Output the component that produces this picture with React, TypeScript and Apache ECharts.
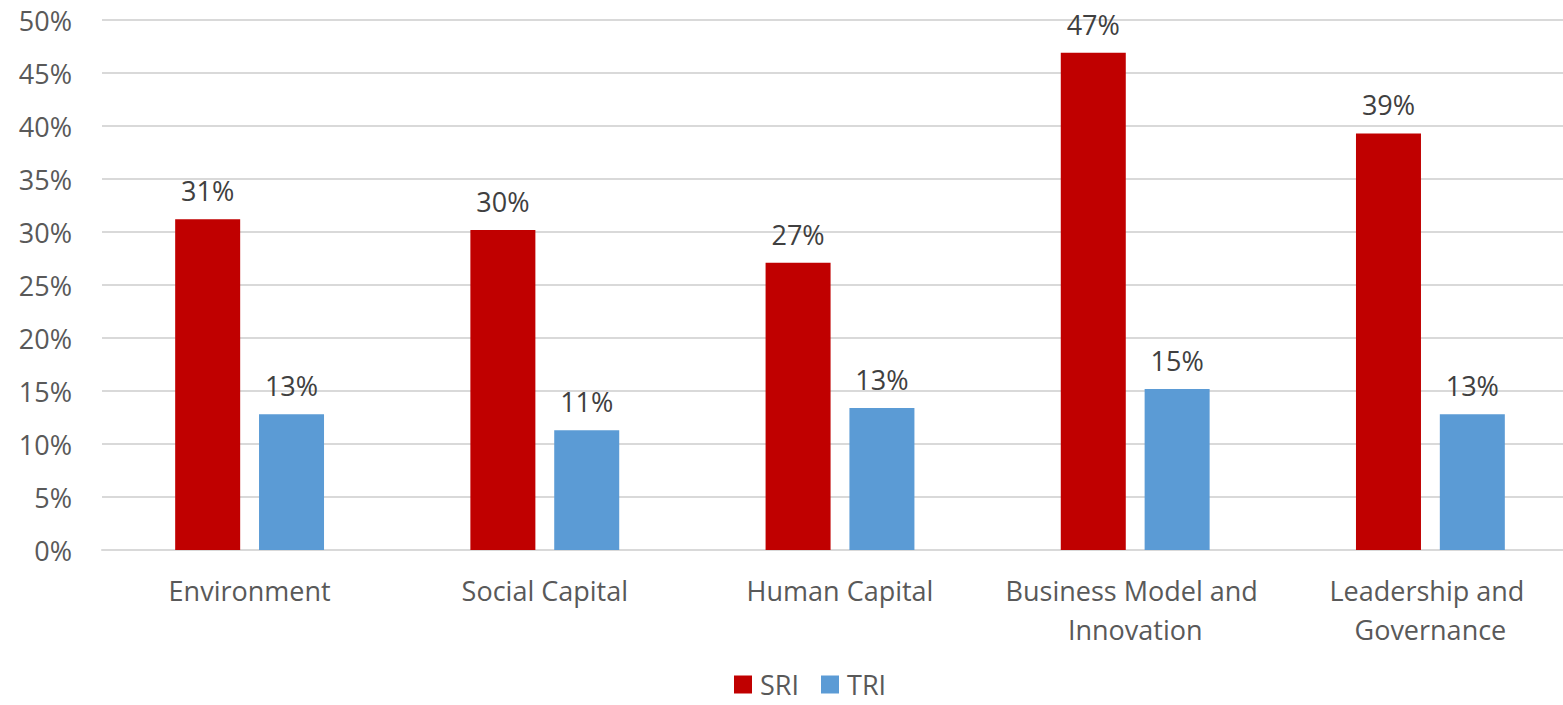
import React, { useEffect, useRef } from "react";
import * as echarts from "echarts";

const categories = [
  "Environment",
  "Social Capital",
  "Human Capital",
  "Business Model and Innovation",
  "Leadership and Governance",
];
const sriValues = [31.2, 30.2, 27.1, 46.9, 39.3];
const triValues = [12.8, 11.3, 13.4, 15.2, 12.8];
const yTicks = { min: 0, max: 50, interval: 5 };

const FONT = "'Open Sans', 'Noto Sans', sans-serif";

export default function App() {
  const ref = useRef<HTMLDivElement>(null);
  useEffect(() => {
    if (!ref.current) return;
    const chart = echarts.init(ref.current, null, { renderer: "svg" });
    const label = {
      show: true,
      position: "top",
      distance: 15,
      formatter: (p: any) => Math.round(p.value) + "%",
      fontFamily: FONT,
      fontSize: 27,
      color: "#404040",
    };
    chart.setOption({
      animation: false,
      backgroundColor: "#ffffff",
      textStyle: { fontFamily: FONT },
      grid: { left: 102, right: 2, top: 20, bottom: 155, containLabel: false },
      legend: {
        top: 671,
        left: 734,
        padding: 0,
        itemWidth: 18,
        itemHeight: 18,
        itemGap: 22,
        icon: "rect",
        textStyle: {
          fontFamily: FONT,
          fontSize: 27,
          lineHeight: 27,
          color: "#595959",
          padding: [0, 0, 0, 3],
        },
        data: ["SRI", "TRI"],
      },
      xAxis: {
        type: "category",
        data: categories,
        axisLine: { show: true, lineStyle: { color: "#d9d9d9", width: 2 } },
        axisTick: { show: false },
        axisLabel: {
          fontFamily: FONT,
          fontSize: 27,
          color: "#595959",
          margin: 21,
          lineHeight: 39,
          width: 280,
          overflow: "break",
          interval: 0,
        },
      },
      yAxis: {
        type: "value",
        min: yTicks.min,
        max: yTicks.max,
        interval: yTicks.interval,
        axisLine: { show: false },
        axisTick: { show: false },
        splitLine: { lineStyle: { color: "#d9d9d9", width: 2 } },
        axisLabel: {
          formatter: "{value}%",
          fontFamily: FONT,
          fontSize: 27,
          color: "#595959",
          margin: 30,
        },
      },
      series: [
        {
          name: "SRI",
          type: "bar",
          data: sriValues,
          barWidth: 65,
          barGap: "29%",
          itemStyle: { color: "#C00000" },
          label,
        },
        {
          name: "TRI",
          type: "bar",
          data: triValues,
          barWidth: 65,
          itemStyle: { color: "#5B9BD5" },
          label,
        },
      ],
    });
    return () => chart.dispose();
  }, []);
  return (
    <div
      style={{
        position: "absolute",
        left: 0,
        top: 0,
        width: 1563,
        height: 705,
        overflow: "hidden",
      }}
    >
      <div ref={ref} style={{ width: 1580, height: 705 }} />
    </div>
  );
}
